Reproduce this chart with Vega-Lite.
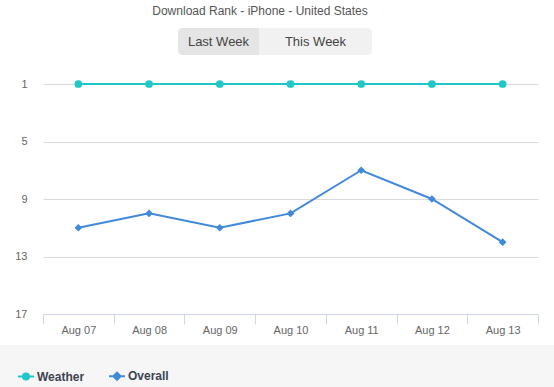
{
  "$schema": "https://vega.github.io/schema/vega-lite/v6.json",
  "background": "white",
  "padding": {"top": 5, "left": 0, "right": 0, "bottom": 0},
  "title": {"text": "Download Rank - iPhone - United States", "font": "Liberation Sans", "fontSize": 12, "fontWeight": "normal", "color": "#555555", "anchor": "middle", "offset": 10, "dx": -17},
  "spacing": 10,
  "columns": 1,
  "align": "none",
  "config": {"view": {"stroke": null}, "font": "Liberation Sans"},
  "resolve": {
    "scale": {"x": "independent", "y": "independent", "color": "independent", "shape": "independent", "fill": "independent", "stroke": "independent"},
    "legend": {"color": "independent", "shape": "independent", "fill": "independent", "stroke": "independent"}
  },
  "concat": [
    {
      "width": 554,
      "height": 27,
      "data": {"values": [
        {"button": "Last Week", "start": 0, "end": 81, "mid": 40.5, "selected": true},
        {"button": "This Week", "start": 81, "end": 194, "mid": 137.5, "selected": false}
      ]},
      "layer": [
        {
          "transform": [{"filter": "datum.selected"}],
          "mark": {"type": "rect", "fill": "#e5e5e5", "cornerRadiusTopLeft": 4, "cornerRadiusBottomLeft": 4},
          "encoding": {
            "x": {"field": "start", "type": "quantitative", "scale": {"domain": [0, 194], "range": [178, 372], "zero": false, "nice": false}, "axis": null},
            "x2": {"field": "end"}
          }
        },
        {
          "transform": [{"filter": "!datum.selected"}],
          "mark": {"type": "rect", "fill": "#f1f1f1", "cornerRadiusTopRight": 4, "cornerRadiusBottomRight": 4},
          "encoding": {
            "x": {"field": "start", "type": "quantitative"},
            "x2": {"field": "end"}
          }
        },
        {
          "mark": {"type": "text", "font": "Liberation Sans", "fontSize": 13, "color": "#444444"},
          "encoding": {
            "x": {"field": "mid", "type": "quantitative"},
            "text": {"field": "button"}
          }
        }
      ]
    },
    {
      "width": 554,
      "height": 249,
      "data": {"values": [
        {"date": "Aug 07", "series": "Weather", "rank": 1},
        {"date": "Aug 08", "series": "Weather", "rank": 1},
        {"date": "Aug 09", "series": "Weather", "rank": 1},
        {"date": "Aug 10", "series": "Weather", "rank": 1},
        {"date": "Aug 11", "series": "Weather", "rank": 1},
        {"date": "Aug 12", "series": "Weather", "rank": 1},
        {"date": "Aug 13", "series": "Weather", "rank": 1},
        {"date": "Aug 07", "series": "Overall", "rank": 11},
        {"date": "Aug 08", "series": "Overall", "rank": 10},
        {"date": "Aug 09", "series": "Overall", "rank": 11},
        {"date": "Aug 10", "series": "Overall", "rank": 10},
        {"date": "Aug 11", "series": "Overall", "rank": 7},
        {"date": "Aug 12", "series": "Overall", "rank": 9},
        {"date": "Aug 13", "series": "Overall", "rank": 12}
      ]},
      "encoding": {
        "x": {"field": "date", "type": "ordinal", "sort": null,
          "scale": {"type": "band", "paddingInner": 0, "paddingOuter": 0, "range": [43, 538]},
          "axis": {"title": null, "labelAngle": 0, "tickBand": "extent", "domainColor": "#ccd6eb", "tickColor": "#ccd6eb", "tickSize": 10, "labelPadding": 0, "labelFont": "Liberation Sans", "labelFontSize": 11, "labelColor": "#666666", "grid": false}},
        "y": {"field": "rank", "type": "quantitative",
          "scale": {"domain": [1, 17], "range": [19, 249], "zero": false, "nice": false},
          "axis": {"title": null, "values": [1, 5, 9, 13, 17], "domain": false, "ticks": false, "tickSize": 0, "labelPadding": 16, "offset": -43, "grid": true, "gridColor": "#dadada", "labelFont": "Liberation Sans", "labelFontSize": 11, "labelColor": "#666666"}},
        "color": {"field": "series", "type": "nominal", "scale": {"domain": ["Weather", "Overall"], "range": ["#1fc7c7", "#4189d9"]}, "legend": null}
      },
      "layer": [
        {"mark": {"type": "line", "strokeWidth": 2}},
        {
          "mark": {"type": "point", "filled": true, "opacity": 1, "size": 60},
          "encoding": {
            "shape": {"field": "series", "type": "nominal", "scale": {"domain": ["Weather", "Overall"], "range": ["circle", "diamond"]}, "legend": null}
          }
        }
      ]
    },
    {
      "width": 554,
      "height": 43,
      "view": {"fill": "#f6f6f6", "stroke": null},
      "data": {"values": [{"series": "Weather"}, {"series": "Overall"}]},
      "mark": {"type": "point", "filled": true, "opacity": 0},
      "encoding": {
        "fill": {"field": "series", "type": "nominal", "scale": {"domain": ["Weather", "Overall"], "range": ["#1fc7c7", "#4189d9"]},
          "legend": {"title": null, "orient": "none", "legendX": 20, "legendY": 25, "direction": "horizontal", "symbolSize": 64, "symbolStrokeWidth": 2, "labelOffset": 5, "columnPadding": 20, "labelFont": "Liberation Sans", "labelFontSize": 12, "labelFontWeight": "bold", "labelColor": "#3c4452", "symbolOpacity": 1, "padding": 0}},
        "stroke": {"field": "series", "type": "nominal", "scale": {"domain": ["Weather", "Overall"], "range": ["#1fc7c7", "#4189d9"]},
          "legend": {"title": null, "orient": "none", "legendX": 20, "legendY": 25, "direction": "horizontal", "symbolSize": 64, "symbolStrokeWidth": 2, "labelOffset": 5, "columnPadding": 20, "labelFont": "Liberation Sans", "labelFontSize": 12, "labelFontWeight": "bold", "labelColor": "#3c4452", "symbolOpacity": 1, "padding": 0}},
        "shape": {"field": "series", "type": "nominal", "scale": {"domain": ["Weather", "Overall"], "range": ["M-2,0L2,0M-0.75,0A0.75,0.75,0,1,0,0.75,0A0.75,0.75,0,1,0,-0.75,0Z", "M-2,0L2,0M0,-0.9L0.9,0L0,0.9L-0.9,0Z"]},
          "legend": {"title": null, "orient": "none", "legendX": 20, "legendY": 25, "direction": "horizontal", "symbolSize": 64, "symbolStrokeWidth": 2, "labelOffset": 5, "columnPadding": 20, "labelFont": "Liberation Sans", "labelFontSize": 12, "labelFontWeight": "bold", "labelColor": "#3c4452", "symbolOpacity": 1, "padding": 0}}
      }
    }
  ]
}
